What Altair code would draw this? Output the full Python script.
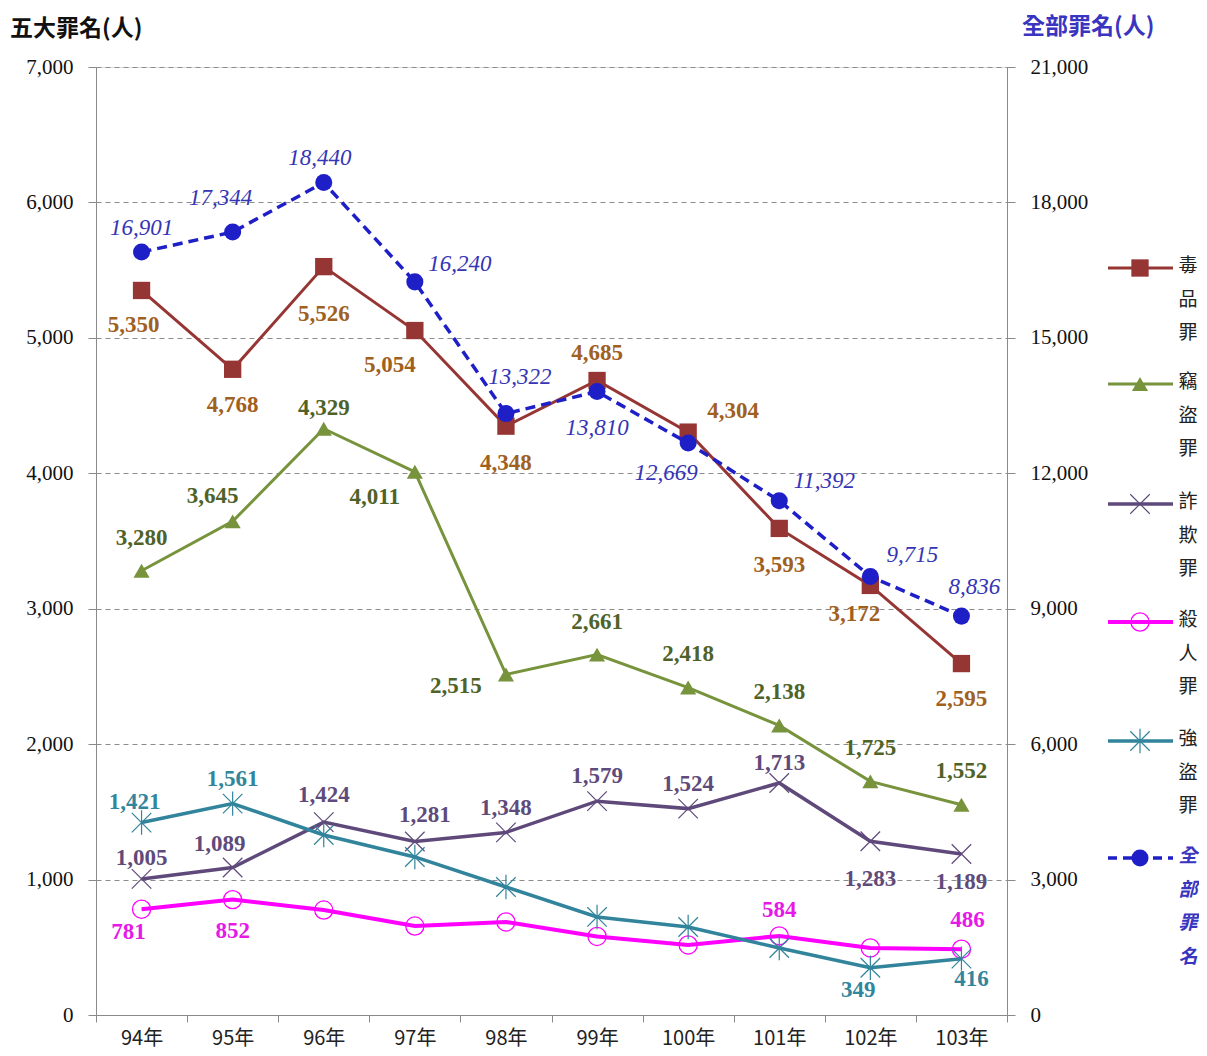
import altair as alt
import pandas as pd

# ---------------- data ----------------
YEARS = ["94年", "95年", "96年", "97年", "98年", "99年", "100年", "101年", "102年", "103年"]
DRUG = [5350, 4768, 5526, 5054, 4348, 4685, 4304, 3593, 3172, 2595]      # 毒品罪
THEFT = [3280, 3645, 4329, 4011, 2515, 2661, 2418, 2138, 1725, 1552]     # 竊盜罪
FRAUD = [1005, 1089, 1424, 1281, 1348, 1579, 1524, 1713, 1283, 1189]     # 詐欺罪
MURDER = [781, 852, 775, 657, 687, 580, 517, 584, 495, 486]              # 殺人罪
ROBBERY = [1421, 1561, 1329, 1167, 945, 724, 650, 495, 349, 416]         # 強盜罪
TOTAL = [16901, 17344, 18440, 16240, 13322, 13810, 12669, 11392, 9715, 8836]  # 全部罪名

NAMES = ["毒品罪", "竊盜罪", "詐欺罪", "殺人罪", "強盜罪", "全部罪名"]
LEFT_TITLE = "五大罪名(人)"
RIGHT_TITLE = "全部罪名(人)"

# ---------------- styles (label offsets in px, None = no label) ----------------
OFF_DRUG = [(-8, 35), (0, 36), (0, 47), (-25, 34), (0, 37), (0, -28), (45, -21), (0, 37), (-16, 29), (0, 35)]
OFF_THEFT = [(0, -33), (-20, -25), (0, -21), (-40, 25), (-50, 12), (0, -33), (0, -34), (0, -33), (0, -33), (0, -34)]
OFF_FRAUD = [(0, -21), (-13, -24), (0, -27), (10, -27), (0, -24), (0, -25), (0, -25), (0, -20), (0, 38), (0, 28)]
OFF_MURDER = [(-13, 23), (0, 31), None, None, None, None, None, (0, -26), None, (6, -29)]
OFF_ROBBERY = [(-7, -21), (0, -25), None, None, None, None, None, None, (-12, 22), (10, 20)]
OFF_TOTAL = [(0, -24), (-12, -34), (-4, -25), (45, -18), (14, -37), (0, 36), (-22, 30), (45, -20), (42, -21), (13, -29)]

X_PATH = "M-1,-1L1,1M-1,1L1,-1"
AST_PATH = "M-1,-1L1,1M-1,1L1,-1M0,-1.25L0,1.25"

SERIES = [
    dict(name=NAMES[0], vals=DRUG, color="#963634", lab="#A0601E", shape="square", size=300,
         filled=True, mstroke=1, sw=3, off=OFF_DRUG),
    dict(name=NAMES[1], vals=THEFT, color="#77933C", lab="#4F6228", shape="triangle-up", size=260,
         filled=True, mstroke=1, sw=3, off=OFF_THEFT),
    dict(name=NAMES[2], vals=FRAUD, color="#5F497A", lab="#5F4B7B", shape=X_PATH, size=380,
         filled=False, mstroke=1.2, sw=3.5, off=OFF_FRAUD),
    dict(name=NAMES[3], vals=MURDER, color="#FF00FF", lab="#E619E6", shape="circle", size=330,
         filled=False, mstroke=1.3, sw=4, off=OFF_MURDER),
    dict(name=NAMES[4], vals=ROBBERY, color="#31849B", lab="#31859C", shape=AST_PATH, size=380,
         filled=False, mstroke=1.2, sw=3.5, off=OFF_ROBBERY),
]
TOTAL_STYLE = dict(name=NAMES[5], vals=TOTAL, color="#1F1FC8", lab="#3535B5", shape="circle", size=290,
                   filled=True, mstroke=1, sw=3.5, off=OFF_TOTAL)

NUM_FONT = "Liberation Serif"
CJK_FONT = "Noto Sans CJK TC"

X_AXIS = alt.Axis(title=None, labelAngle=0, tickBand="extent", grid=False, domainColor="#8a8a8a",
                  tickColor="#8a8a8a", tickSize=7, labelFont=CJK_FONT, labelFontSize=20,
                  labelColor="#222222", labelPadding=6)
Y_LEFT_AXIS = alt.Axis(title=None, values=list(range(0, 7001, 1000)),
                       labelExpr="format(datum.value, ',')", grid=True,
                       gridDash=[5, 4], gridColor="#8c8c8c", gridWidth=1, domainColor="#8a8a8a",
                       tickColor="#8a8a8a", tickSize=8, labelFont=NUM_FONT, labelFontSize=21,
                       labelColor="#111111", labelPadding=15, orient="left")
Y_RIGHT_AXIS = alt.Axis(title=None, values=list(range(0, 21001, 3000)),
                        labelExpr="format(datum.value, ',')", grid=False,
                        domainColor="#8a8a8a", tickColor="#8a8a8a", tickSize=8, labelFont=NUM_FONT,
                        labelFontSize=21, labelColor="#111111", labelPadding=15, orient="right")


def x_enc():
    return alt.X("year:N", sort=YEARS,
                 scale=alt.Scale(type="band", paddingInner=0, paddingOuter=0),
                 bandPosition=0.5, axis=X_AXIS)


def series_layers(s, y_enc, italic=False):
    df = pd.DataFrame({"year": YEARS, "value": s["vals"]})
    base = alt.Chart(df)
    layers = []
    line_kw = dict(color=s["color"], strokeWidth=s["sw"])
    if italic:
        line_kw["strokeDash"] = [10, 6]
    layers.append(base.mark_line(**line_kw).encode(x=x_enc(), y=y_enc))
    pt_kw = dict(shape=s["shape"], size=s["size"], filled=s["filled"], opacity=1,
                 strokeWidth=s["mstroke"], color=s["color"])
    layers.append(base.mark_point(**pt_kw).encode(x=x_enc(), y=y_enc))
    for i, off in enumerate(s["off"]):
        if off is None:
            continue
        dx, dy = off
        tkw = dict(dx=dx, dy=dy, align="center", baseline="middle", font=NUM_FONT,
                   fontSize=23, color=s["lab"])
        if italic:
            tkw["fontStyle"] = "italic"
        else:
            tkw["fontWeight"] = "bold"
        layers.append(
            base.transform_filter(alt.datum.year == YEARS[i])
            .mark_text(**tkw)
            .encode(x=x_enc(), y=y_enc, text=alt.Text("value:Q", format=","))
        )
    return layers


y_left = alt.Y("value:Q", scale=alt.Scale(domain=[0, 7000], nice=False), axis=Y_LEFT_AXIS)
y_right = alt.Y("value:Q", scale=alt.Scale(domain=[0, 21000], nice=False), axis=Y_RIGHT_AXIS)

left_layers = []
for s in SERIES:
    left_layers += series_layers(s, y_left)
left = alt.layer(*left_layers)

right = alt.layer(*series_layers(TOTAL_STYLE, y_right, italic=True))

# ---------------- titles & legend (decor) ----------------
one = pd.DataFrame({"k": [0]})
decor = []
decor.append(alt.Chart(pd.DataFrame({"t": [LEFT_TITLE]})).mark_text(
    align="left", baseline="middle", font=CJK_FONT, fontSize=23, fontWeight="bold", color="#111111"
).encode(text="t:N", x=alt.value(-86), y=alt.value(-38)))
decor.append(alt.Chart(pd.DataFrame({"t": [RIGHT_TITLE]})).mark_text(
    align="left", baseline="middle", font=CJK_FONT, fontSize=23, fontWeight="bold", color="#3A35C0"
).encode(text="t:N", x=alt.value(926), y=alt.value(-40)))

LEG_X1, LEG_X2, LEG_MX, LEG_TX = 1012, 1077, 1044, 1092
LEG_Y = [201, 317, 437, 555, 674, 791]
for s, ly in zip(SERIES + [TOTAL_STYLE], LEG_Y):
    is_total = s is TOTAL_STYLE
    rkw = dict(color=s["color"], strokeWidth=s["sw"])
    if is_total:
        rkw["strokeDash"] = [9, 6]
    decor.append(alt.Chart(one).mark_rule(**rkw).encode(
        x=alt.value(LEG_X1), x2=alt.value(LEG_X2), y=alt.value(ly)))
    decor.append(alt.Chart(one).mark_point(
        shape=s["shape"], size=s["size"], filled=s["filled"], opacity=1,
        strokeWidth=s["mstroke"], color=s["color"]
    ).encode(x=alt.value(LEG_MX), y=alt.value(ly)))
    tkw = dict(align="center", baseline="top", font=CJK_FONT, fontSize=19, lineBreak="\n",
               lineHeight=33.5, color="#3A35C0" if is_total else "#222222")
    if is_total:
        tkw["fontStyle"] = "italic"
        tkw["fontWeight"] = "bold"
    decor.append(alt.Chart(pd.DataFrame({"t": ["\n".join(list(s["name"]))]})).mark_text(**tkw).encode(
        text="t:N", x=alt.value(LEG_TX), y=alt.value(ly - 11)))

chart = alt.layer(left, right, *decor).resolve_scale(y="independent").properties(
    width=911, height=948,
    padding={"left": 88, "top": 59, "right": 192, "bottom": 38},
    autosize=alt.AutoSizeParams(type="none"),
).configure_view(stroke=None).configure(background="white")

chart.save("out.html", embed_options={"renderer": "svg", "actions": False})
